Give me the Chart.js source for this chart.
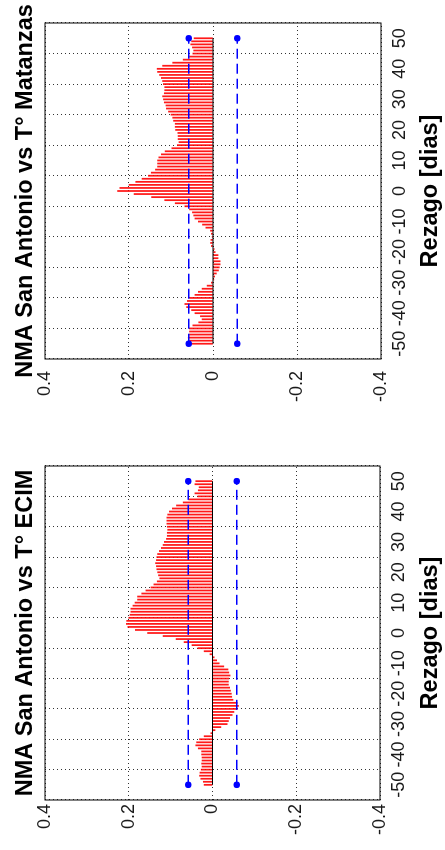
<!DOCTYPE html>
<html>
<head>
<meta charset="utf-8">
<script src="https://cdn.jsdelivr.net/npm/chart.js@4.4.0/dist/chart.umd.min.js"></script>
<style>
  html, body { margin: 0; padding: 0; background: #fff; }
  body { width: 445px; height: 850px; overflow: hidden; position: relative; }
  /* the figure is drawn upright and then turned a quarter turn to the left */
  #rot { position: absolute; left: 0; top: 0; width: 850px; height: 445px;
         transform-origin: 0 0; transform: translate(0, 850px) rotate(-90deg); }
  .panel { position: absolute; top: 0; width: 425px; height: 445px; }
</style>
</head>
<body>
<div id="rot">
  <div class="panel" style="left:0"><canvas id="chartEcim" width="425" height="445"></canvas></div>
  <div class="panel" style="left:425px"><canvas id="chartMatanzas" width="425" height="445"></canvas></div>
</div>
<script>
// --- Datos ---
const lags = [-50, -49, -48, -47, -46, -45, -44, -43, -42, -41, -40, -39, -38, -37, -36, -35, -34,
    -33, -32, -31, -30, -29, -28, -27, -26, -25, -24, -23, -22, -21, -20, -19, -18, -17, -16, -15,
    -14, -13, -12, -11, -10, -9, -8, -7, -6, -5, -4, -3, -2, -1, 0, 1, 2, 3, 4, 5, 6, 7, 8, 9, 10,
    11, 12, 13, 14, 15, 16, 17, 18, 19, 20, 21, 22, 23, 24, 25, 26, 27, 28, 29, 30, 31, 32, 33, 34,
    35, 36, 37, 38, 39, 40, 41, 42, 43, 44, 45, 46, 47, 48, 49, 50];

// correlacion NMA San Antonio vs T° ECIM (rezago -50 .. 50)
const corrEcim = [0.020, 0.022, 0.028, 0.031, 0.030, 0.027, 0.025, 0.026, 0.025, 0.025,
    0.026, 0.026, 0.034, 0.040, 0.038, 0.031, 0.020, 0.004, -0.006, -0.020,
    -0.035, -0.038, -0.041, -0.047, -0.051, -0.059, -0.062, -0.059, -0.049, -0.046,
    -0.045, -0.043, -0.041, -0.038, -0.038, -0.039, -0.042, -0.039, -0.037, -0.027,
    -0.016, -0.010, -0.004, 0.006, 0.020, 0.035, 0.049, 0.068, 0.087, 0.118,
    0.155, 0.184, 0.202, 0.206, 0.205, 0.200, 0.197, 0.195, 0.195, 0.190,
    0.185, 0.179, 0.179, 0.169, 0.159, 0.147, 0.140, 0.132, 0.126, 0.129,
    0.131, 0.133, 0.134, 0.136, 0.134, 0.133, 0.131, 0.127, 0.122, 0.118,
    0.115, 0.110, 0.108, 0.108, 0.107, 0.108, 0.109, 0.109, 0.109, 0.107,
    0.103, 0.096, 0.086, 0.070, 0.057, 0.035, 0.042, 0.034, 0.032, 0.042, 0.040];

// correlacion NMA San Antonio vs T° Matanzas (rezago -50 .. 50)
const corrMatanzas = [0.055, 0.056, 0.059, 0.056, 0.056, 0.056, 0.048, 0.034, 0.026, 0.030,
    0.043, 0.051, 0.063, 0.067, 0.061, 0.056, 0.043, 0.035, 0.026, 0.014,
    0.004, -0.002, -0.004, -0.008, -0.013, -0.015, -0.017, -0.017, -0.012, -0.012,
    -0.005, -0.003, 0.004, 0.006, 0.005, 0.002, 0.004, 0.006, 0.017, 0.025,
    0.035, 0.043, 0.046, 0.049, 0.056, 0.067, 0.090, 0.115, 0.146, 0.188,
    0.227, 0.222, 0.200, 0.184, 0.169, 0.154, 0.147, 0.137, 0.132, 0.132,
    0.132, 0.129, 0.123, 0.114, 0.098, 0.085, 0.081, 0.083, 0.083, 0.084,
    0.089, 0.090, 0.090, 0.094, 0.096, 0.100, 0.106, 0.111, 0.112, 0.116,
    0.118, 0.120, 0.116, 0.115, 0.115, 0.118, 0.120, 0.123, 0.127, 0.132,
    0.133, 0.120, 0.096, 0.071, 0.056, 0.048, 0.046, 0.049, 0.053, 0.051, 0.045];

// limites de confianza (+/-)
const confBound = [0.058, -0.058];

// etiquetas de los ejes
const lagTicks = [-50, -40, -30, -20, -10, 0, 10, 20, 30, 40, 50];
const corrTicks = [-0.4, -0.2, 0, 0.2, 0.4];

const FONT = '"Liberation Sans", Arial, Helvetica, sans-serif';

// recuadro negro alrededor del area de graficos (box on) + titulo centrado sobre el area
// (el titulo de Chart.js se comprime con maxWidth, por eso se dibuja aqui)
const framePlugin = {
    id: 'frame',
    afterDraw(chart, args, opts) {
        const a = chart.chartArea;
        const ctx = chart.ctx;
        ctx.save();
        ctx.strokeStyle = '#000';
        ctx.lineWidth = 1;
        ctx.strokeRect(a.left, a.top, a.right - a.left, a.bottom - a.top);

        ctx.fillStyle = '#000';
        ctx.font = 'bold 23.5px ' + FONT;
        ctx.textAlign = 'center';
        ctx.textBaseline = 'alphabetic';
        ctx.fillText(opts.text, (a.left + a.right) / 2, 32);
        ctx.restore();
    }
};

function makeXcorrChart(canvasId, titleText, values, padRight, yWidth, xHeight, labelPad) {
    const first = lags[0];
    const last = lags[lags.length - 1];

    const datasets = [
        {
            type: 'bar',
            data: lags.map((l, i) => ({ x: l, y: values[i] })),
            backgroundColor: 'rgba(255, 0, 0, 0.9)',
            barThickness: 1.1,
            grouped: false,
            order: 3
        },
        {
            type: 'line',
            data: [{ x: first, y: 0 }, { x: last, y: 0 }],
            borderColor: '#000',
            borderWidth: 1,
            pointRadius: 0,
            order: 2
        }
    ];
    confBound.forEach(b => {
        datasets.push({
            type: 'line',
            data: [{ x: first, y: b }, { x: last, y: b }],
            borderColor: '#0000ff',
            borderWidth: 1.5,
            borderDash: [10, 5],
            pointRadius: 2.5,
            pointBackgroundColor: '#0000ff',
            pointBorderColor: '#0000ff',
            clip: false,
            order: 1
        });
    });

    return new Chart(document.getElementById(canvasId), {
        type: 'bar',
        data: { datasets: datasets },
        plugins: [framePlugin],
        options: {
            responsive: false,
            animation: false,
            layout: { padding: { left: 0, right: padRight, top: 45, bottom: 0 } },
            plugins: {
                legend: { display: false },
                tooltip: { enabled: false },
                frame: { text: titleText }
            },
            scales: {
                x: {
                    type: 'linear',
                    min: lagTicks[0],
                    max: lagTicks[lagTicks.length - 1],
                    afterBuildTicks: s => { s.ticks = lagTicks.map(v => ({ value: v })); },
                    afterFit: s => { s.height = xHeight; },
                    ticks: {
                        color: '#1a1a1a',
                        font: { family: FONT, size: 18 },
                        padding: 8,
                        maxRotation: 0,
                        autoSkip: false
                    },
                    grid: { color: '#333', lineWidth: 1, drawTicks: false },
                    border: { display: false, dash: [1, 3] },
                    title: {
                        display: true,
                        text: 'Rezago [dias]',
                        color: '#000',
                        font: { family: FONT, size: 23.5, weight: 'bold' },
                        padding: 0
                    }
                },
                y: {
                    type: 'linear',
                    min: corrTicks[0],
                    max: corrTicks[corrTicks.length - 1],
                    afterBuildTicks: s => { s.ticks = corrTicks.map(v => ({ value: v })); },
                    afterFit: s => { s.width = yWidth; },
                    ticks: {
                        color: '#1a1a1a',
                        font: { family: FONT, size: 18 },
                        padding: labelPad,
                        callback: v => String(v)
                    },
                    grid: { color: '#333', lineWidth: 1, drawTicks: false },
                    border: { display: false, dash: [1, 3] }
                }
            }
        }
    });
}

makeXcorrChart('chartEcim', 'NMA San Antonio vs T° ECIM', corrEcim, 41, 50, 65, 4);
makeXcorrChart('chartMatanzas', 'NMA San Antonio vs T° Matanzas', corrMatanzas, 23, 66, 64, 12);
</script>
</body>
</html>
